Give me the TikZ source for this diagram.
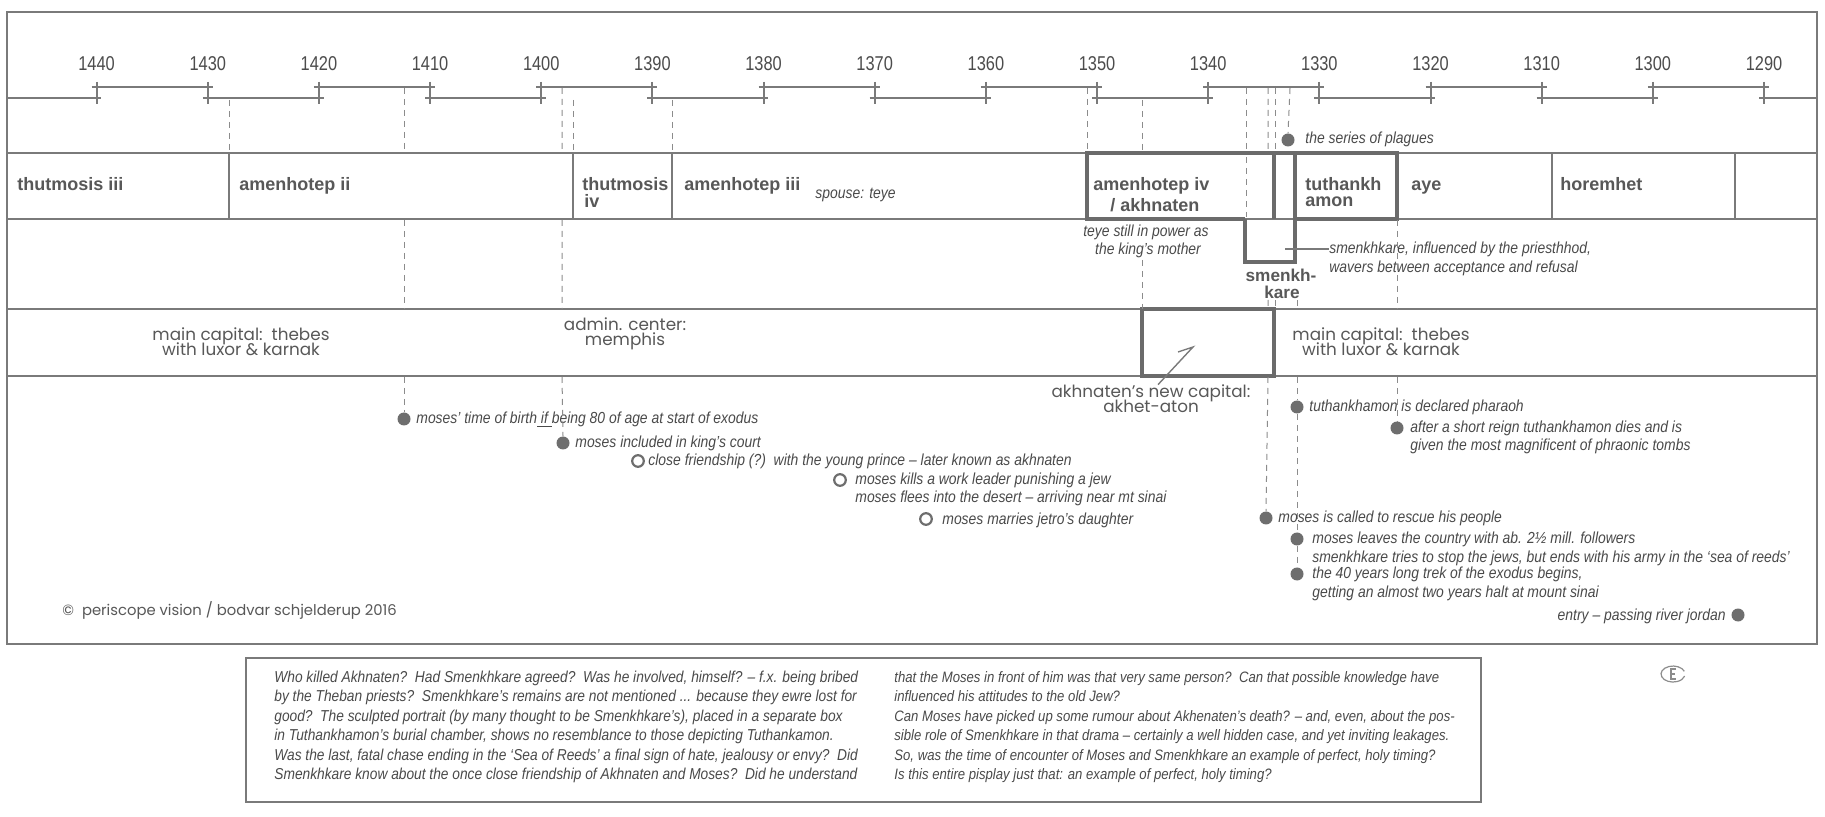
\documentclass[tikz,border=0pt]{standalone}
\usepackage{fontspec}
\setmainfont{Liberation Sans}
\newfontfamily\yearfont{Liberation Sans}[FakeStretch=0.82]
\newfontfamily\notefont{Liberation Sans}[FakeStretch=0.87]
\newfontfamily\placefont{Poppins}
\definecolor{inkline}{HTML}{7A7A7A}
\definecolor{inkbox}{HTML}{6B6B6B}
\definecolor{inktext}{HTML}{585858}
\definecolor{inkyear}{HTML}{4C4C4C}
\definecolor{inknote}{HTML}{4A4A4A}
\definecolor{inkdot}{HTML}{6E6E6E}
\definecolor{inkguide}{HTML}{8C8C8C}
\tikzset{
  frameline/.style={draw=inkline, line width=1.1pt},
  rowline/.style={draw=inkline, line width=1pt},
  thickbox/.style={draw=inkbox, line width=2pt},
  tl/.style={draw=inkline, line width=1.1pt},
  tickmark/.style={draw=inkline, line width=1pt},
  guide/.style={draw=inkguide, line width=0.5pt, dash pattern=on 3pt off 2.5pt},
  yearlbl/.style={font=\yearfont\fontsize{10}{11}\selectfont, text=inkyear, inner sep=0},
  kinglbl/.style={font=\bfseries\fontsize{9}{10}\selectfont, text=inktext, anchor=base west, inner sep=0},
  notelbl/.style={font=\notefont\itshape\fontsize{8}{9}\selectfont, text=inknote, anchor=base west, inner sep=0},
  notecentre/.style={notelbl, anchor=base},
  placelbl/.style={font=\placefont\fontsize{8.4}{9.5}\selectfont, text=inktext, align=center, inner sep=0},
  fulldot/.style={circle, fill=inkdot, inner sep=0, minimum size=6.5pt},
  opendot/.style={circle, draw=inkdot, line width=1.1pt, inner sep=0, minimum size=5.8pt},
  boxtext/.style={font=\notefont\itshape\fontsize{7.9}{9}\selectfont, text=inknote, anchor=base west, inner sep=0},
  boxtextr/.style={boxtext, font=\notefont\itshape\fontsize{7.55}{9}\selectfont}
}
\begin{document}
\begin{tikzpicture}[x=0.5pt, y=-0.5pt]
\useasboundingbox (0,0) rectangle (1825,817);
\fill[white] (0,0) rectangle (1825,817);

% outer frame
\draw[frameline] (7,12) rectangle (1817,644);

% time scale: year labels and ticks
\foreach \yr [count=\i from 0] in {1440,1430,...,1290} {
  \pgfmathsetmacro\tx{96.6+\i*111.16}
  \node[yearlbl] (y\yr) at (\tx,64) {\yr};
  \draw[tickmark] (\tx,82) -- (\tx,104);
}
% alternating upper and lower segments of the scale
\foreach \a in {1440,1420,...,1300} {
  \pgfmathsetmacro\xa{96.6+(1440-\a)*11.116}
  \draw[tl] (\xa-5,87) -- (\xa+116,87);
}
\foreach \a in {1430,1410,...,1310} {
  \pgfmathsetmacro\xa{96.6+(1440-\a)*11.116}
  \draw[tl] (\xa-5,98) -- (\xa+116,98);
}
\draw[tl] (7,98) -- (101,98);
\draw[tl] (1759,98) -- (1817,98);

% horizontal row lines
\foreach \ry in {153,219,309,376} \draw[rowline] (7,\ry) -- (1817,\ry);

% reign dividers
\foreach \dx in {229,573,672,1552,1735} \draw[rowline] (\dx,153) -- (\dx,219);

% amenhotep iv, smenkhkare and tuthankhamon outlines
\draw[thickbox] (1245,219) -- (1087,219) -- (1087,153) -- (1397,153) -- (1397,219) -- (1295,219);
\draw[thickbox] (1274,153) -- (1274,219);
\draw[thickbox] (1245,219) -- (1245,262) -- (1295,262) -- (1295,153);
% akhet-aton box
\draw[thickbox] (1142,309) rectangle (1274,376);

% pharaohs
\node[kinglbl] (k1) at (17,191) {thutmosis iii};
\node[kinglbl] (k2) at (239,191) {amenhotep ii};
\node[kinglbl] (k3a) at (582,191) {thutmosis};
\node[kinglbl] (k3b) at (584,208) {iv};
\node[kinglbl] (k4) at (684,191) {amenhotep iii};
\node[notelbl] (spouse) at (815,199) {spouse: teye};
\node[kinglbl] (k5a) at (1093,191) {amenhotep iv};
\node[kinglbl] (k5b) at (1110,212) {/ akhnaten};
\node[kinglbl] (k7a) at (1305,191) {tuthankh};
\node[kinglbl] (k7b) at (1305,207) {amon};
\node[kinglbl] (k8) at (1411,191) {aye};
\node[kinglbl] (k9) at (1560,191) {horemhet};
\node[kinglbl, anchor=base, font=\bfseries\fontsize{8.6}{10}\selectfont] (k6a) at (1281,282) {smenkh-};
\node[kinglbl, anchor=base, font=\bfseries\fontsize{8.6}{10}\selectfont] (k6b) at (1282,299) {kare};

% notes in the reign rows
\node[notecentre] (teye1) at (1146,237) {teye still in power as};
\node[notecentre] (teye2) at (1148,255) {the king’s mother};
\coordinate (smkpt) at (1285,249);
\node[notelbl] (smk1) at (1329,254) {smenkhkare, influenced by the priesthhod,};
\node[notelbl] (smk2) at (1329,273) {wavers between acceptance and refusal};
\draw[draw=inkline, line width=0.7pt] (smkpt) -- (smk1.west |- smkpt);

% seats of government
\node[placelbl] (th1) at (241,342) {main capital:\ \ thebes\\[-2pt]with luxor \& karnak};
\node[placelbl] (mem) at (625,334) {admin. center:\\[-2pt]memphis};
\node[placelbl] (ak) at (1151,399) {akhnaten’s new capital:\\[-2pt]akhet-aton};
\node[placelbl] (th2) at (1381,342) {main capital:\ \ thebes\\[-2pt]with luxor \& karnak};
\coordinate (akpt) at (1193,347);
\draw[draw=inkline, line width=0.7pt] (ak.north -| 1158,0) -- (akpt) -- (1178,352);

% plagues
\node[fulldot] (plag) at (1288,140) {};
\node[notelbl] (plagt) at (1305,144) {the series of plagues};

% events
\node[fulldot] (d1) at (404,419) {};
\node[notelbl] (e1) at (416,424) {moses’ time of birth\underline{ if }being 80 of age at start of exodus};
\node[fulldot] (d2) at (563,443) {};
\node[notelbl] (e2) at (575,448) {moses included in king’s court};
\node[opendot] (d3) at (638,461) {};
\node[notelbl] (e3) at (648,466) {close friendship (?)\ \ with the young prince – later known as akhnaten};
\node[opendot] (d4) at (840,480) {};
\node[notelbl] (e4a) at (855,485) {moses kills a work leader punishing a jew};
\node[notelbl] (e4b) at (855,503) {moses flees into the desert – arriving near mt sinai};
\node[opendot] (d5) at (926,519) {};
\node[notelbl] (e5) at (942,524) {moses marries jetro’s daughter};
\node[fulldot] (d6) at (1266,518) {};
\node[notelbl] (e6) at (1278,523) {moses is called to rescue his people};
\node[fulldot] (d7) at (1297,407) {};
\node[notelbl] (e7) at (1309,412) {tuthankhamon is declared pharaoh};
\node[fulldot] (d8) at (1397,428) {};
\node[notelbl] (e8a) at (1410,433) {after a short reign tuthankhamon dies and is};
\node[notelbl] (e8b) at (1410,451) {given the most magnificent of phraonic tombs};
\node[fulldot] (d9) at (1297,539) {};
\node[notelbl] (e9a) at (1312,544) {moses leaves the country with ab. 2½ mill. followers};
\node[notelbl] (e9b) at (1312,562) {smenkhkare tries to stop the jews, but ends with his army in the ‘sea of reeds’};
\node[fulldot] (d10) at (1297,574) {};
\node[notelbl] (e10a) at (1312,579) {the 40 years long trek of the exodus begins,};
\node[notelbl] (e10b) at (1312,597) {getting an almost two years halt at mount sinai};
\node[fulldot] (d11) at (1738,615) {};
\node[notelbl, anchor=base east] (e11) at (1726,620) {entry – passing river jordan};

% dashed guides
\draw[guide] (229,100) -- (229,153);
\draw[guide] (404,88) -- (404,153) (404,220) -- (404,309) (404,377) -- (d1.north);
\draw[guide] (562,88) -- (562,153) (562,220) -- (562,309) (562,377) -- (d2.north);
\draw[guide] (573,100) -- (573,153);
\draw[guide] (672,100) -- (672,153);
\draw[guide] (1087,88) -- (1087,153);
\draw[guide] (1142,100) -- (1142,153) (1142,260) -- (1142,309);
\draw[guide] (1246,88) -- (1246,153) (1246,157) -- (1246,217);
\draw[guide] (1268,88) -- (1268,153) (1268,300) -- (1268,308) (1268,377) -- (d6.north);
\draw[guide] (1275,88) -- (1275,153) (1275,300) -- (1275,308);
\draw[guide] (1290,88) -- (plag.north);
\draw[guide] (1297,300) -- (1297,308) (1297,377) -- (d7.north) (d7.south) -- (d9.north) (d9.south) -- (d10.north);
\draw[guide] (1397,220) -- (1397,309) (1397,377) -- (d8.north);

% credit
\node[font=\placefont\fontsize{7.4}{8}\selectfont, text=inktext, anchor=base west, inner sep=0] (credit) at (62,616) {©\ \ periscope vision / bodvar schjelderup 2016};

% commentary box
\draw[frameline, line width=0.8pt] (246,658) rectangle (1481,802);
\node[boxtext] (c1) at (274,682) {Who killed Akhnaten?\ \ Had Smenkhkare agreed?\ \ Was he involved, himself? – f.x. being bribed};
\node[boxtext] (c2) at (274,701.5) {by the Theban priests?\ \ Smenkhkare’s remains are not mentioned ... because they ewre lost for};
\node[boxtext] (c3) at (274,721) {good?\ \ The sculpted portrait (by many thought to be Smenkhkare’s), placed in a separate box};
\node[boxtext] (c4) at (274,740.5) {in Tuthankhamon’s burial chamber, shows no resemblance to those depicting Tuthankamon.};
\node[boxtext] (c5) at (274,760) {Was the last, fatal chase ending in the ‘Sea of Reeds’ a final sign of hate, jealousy or envy?\ \ Did};
\node[boxtext] (c6) at (274,779.5) {Smenkhkare know about the once close friendship of Akhnaten and Moses?\ \ Did he understand};
\node[boxtextr] (c7) at (894,682) {that the Moses in front of him was that very same person?\ \ Can that possible knowledge have};
\node[boxtextr] (c8) at (894,701.5) {influenced his attitudes to the old Jew?};
\node[boxtextr] (c9) at (894,721) {Can Moses have picked up some rumour about Akhenaten’s death? – and, even, about the pos-};
\node[boxtextr] (c10) at (894,740.5) {sible role of Smenkhkare in that drama – certainly a well hidden case, and yet inviting leakages.};
\node[boxtextr] (c11) at (894,760) {So, was the time of encounter of Moses and Smenkhkare an example of perfect, holy timing?};
\node[boxtextr] (c12) at (894,779.5) {Is this entire pisplay just that: an example of perfect, holy timing?};

% small hand-drawn mark beside the box
\draw[draw=inkguide, line width=0.6pt] (1684.3,671.3) arc[start angle=20, end angle=345, x radius=6pt, y radius=4pt];
\draw[draw=inkguide, line width=0.7pt] (1676,669) -- (1671,669) -- (1671,679) -- (1676,679) (1671,674) -- (1675,674);
\end{tikzpicture}
\end{document}
